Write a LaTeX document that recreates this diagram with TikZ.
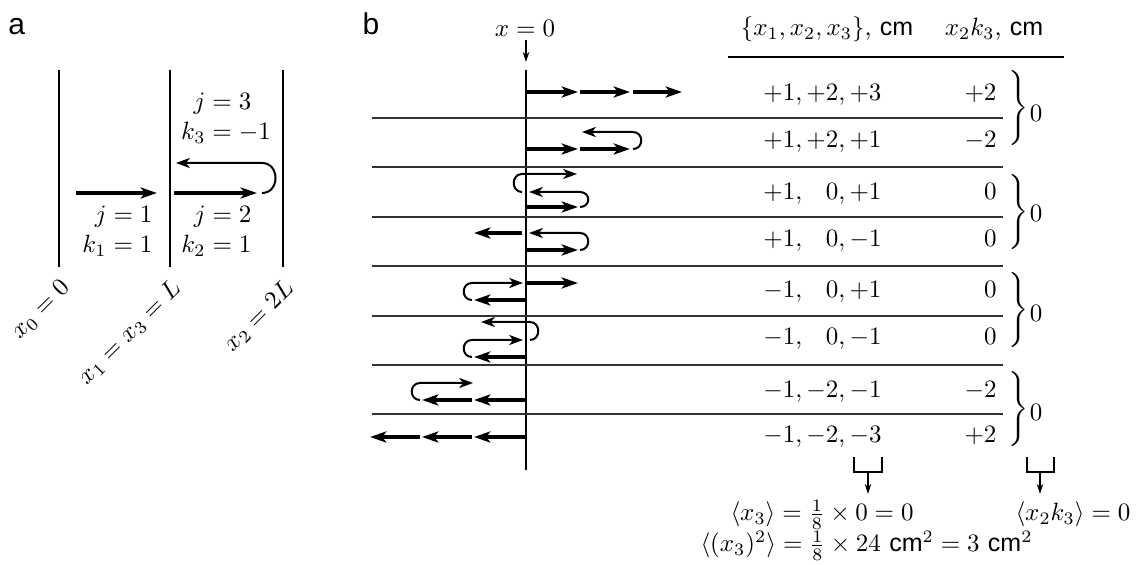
\documentclass[tikz,border=0pt]{standalone}
\usepackage[no-math]{fontspec}
\setsansfont{Liberation Sans}
\usepackage{tikz}
\usetikzlibrary{arrows.meta, calc}

\begin{document}
\begin{tikzpicture}[x=0.4pt, y=-0.4pt, every node/.style={inner sep=0pt},
    wall/.style={line width=0.5pt},
    sep/.style={line width=0.6pt, black!80},
    jump/.style={line width=1.5pt, -{Stealth[length=6.5pt, width=4.4pt, inset=1.6pt]}},
    back/.style={line width=0.8pt, -{Stealth[length=5.5pt, width=4pt, inset=1.5pt]}},
    pointer/.style={line width=0.5pt, -{Stealth[length=4pt, width=2.6pt]}},
    tag/.style={font=\sffamily\large, anchor=base west}]
    \useasboundingbox (0,0) rectangle (1136,565);

    % panel a
    \node [tag] (taga) at (8,35) {a};
    \foreach \x/\nm in {59/wzero, 170/wone, 283/wtwo}
        \draw [wall] (\x,70) -- (\x,267) coordinate (\nm);
    \node [rotate=45, anchor=north east] (lzero) at ($(wzero)+(0,10)$) {$x_0=0$};
    \node [rotate=45, anchor=north east] (lone) at ($(wone)+(0,10)$) {$x_1=x_3=L$};
    \node [rotate=45, anchor=north east] (ltwo) at ($(wtwo)+(0,10)$) {$x_2=2L$};

    \draw [jump] (76,193) -- (157,193);
    \draw [jump] (174,193) -- (257,193);
    \draw [back] (262,193) .. controls (280,193) and (280,163) .. (262,163) -- (176,163);

    \node (stepone) at (117.5,232) {\begin{tabular}{@{}r@{}l@{}}$j$&${}=1$\\$k_1$&${}=1$\end{tabular}};
    \node (steptwo) at (216.5,232) {\begin{tabular}{@{}r@{}l@{}}$j$&${}=2$\\$k_2$&${}=1$\end{tabular}};
    \node (stepthree) at (226,119) {\begin{tabular}{@{}r@{}l@{}}$j$&${}=3$\\$k_3$&${}=-1$\end{tabular}};

    % panel b
    \node [tag] (tagb) at (362,35) {b};
    \node [anchor=base] (xzero) at (525,37) {$x=0$};
    \coordinate (xtip) at (526,62);
    \draw [pointer] ($(xzero.south -| xtip)+(0,3)$) -- (xtip);
    \draw [wall] (526,70) -- (526,470);

    \foreach \y in {118,167,217,266,316,365,414}
        \draw [sep] (372,\y) -- (1003,\y);
    \draw [line width=1pt] (728,57) -- (1064,57);

    % walks
    \draw [jump] (526,92) -- (578,92);
    \draw [jump] (580,92) -- (630,92);
    \draw [jump] (633,92) -- (682,92);

    \draw [jump] (526,149) -- (578,149);
    \draw [jump] (580,149) -- (630,149);
    \draw [back] (633,149) .. controls (644,149) and (644,132) .. (633,132) -- (582,132);

    \draw [jump] (526,207) -- (578,207);
    \draw [back] (580,207) .. controls (591,207) and (591,192) .. (580,192) -- (529,192);
    \draw [back] (522,192) .. controls (511,192) and (511,174) .. (522,174) -- (577,174);

    \draw [jump] (526,250) -- (578,250);
    \draw [back] (580,250) .. controls (591,250) and (591,233) .. (580,233) -- (529,233);
    \draw [jump] (522,233) -- (474,233);

    \draw [jump] (526,300) -- (474,300);
    \draw [back] (472,300) .. controls (461,300) and (461,283) .. (472,283) -- (523,283);
    \draw [jump] (527,283) -- (578,283);

    \draw [jump] (526,357) -- (474,357);
    \draw [back] (472,357) .. controls (461,357) and (461,340) .. (472,340) -- (523,340);
    \draw [back] (530,340) .. controls (541,340) and (541,322) .. (530,322) -- (481,322);

    \draw [jump] (526,400) -- (474,400);
    \draw [jump] (472,400) -- (422,400);
    \draw [back] (420,400) .. controls (409,400) and (409,383) .. (420,383) -- (473,383);

    \draw [jump] (526,437) -- (474,437);
    \draw [jump] (472,437) -- (422,437);
    \draw [jump] (420,437) -- (370,437);

    % table
    \node [anchor=base] (headset) at (827,36) {$\{x_1,x_2,x_3\}$,\ \textsf{cm}};
    \node [anchor=base] (headprod) at (994,36) {$x_2k_3$,\ \textsf{cm}};
    \foreach \y/\xs/\xk [count=\i] in {101/{+1,+2,+3}/{+2}, 148/{+1,+2,+1}/{-2},
        200/{+1,\phantom{+}0,+1}/0, 247/{+1,\phantom{+}0,-1}/0,
        298/{-1,\phantom{+}0,+1}/0, 345/{-1,\phantom{+}0,-1}/0,
        398/{-1,-2,-1}/{-2}, 443/{-1,-2,-3}/{+2}} {
        \node [anchor=base east] (pos\i) at (882,\y) {$\xs$};
        \node [anchor=base east] (prod\i) at (997,\y) {$\xk$};
    }
    \foreach \y/\z [count=\i] in {108.5/113, 212/213, 310/313, 409/412} {
        \node (brace\i) at (1019,\y) {$\Bigg\}$};
        \node (sum\i) at (1036,\z) {$0$};
    }

    % averages
    \draw [wall] (854,457) -- (854,472) -- (882,472) -- (882,457);
    \draw [wall] (1027,457) -- (1027,472) -- (1054,472) -- (1054,457);
    \coordinate (cupone) at (868,472);
    \coordinate (cuptwo) at (1040,472);
    \coordinate (tipone) at (868,494);
    \coordinate (tiptwo) at (1040,494);
    \draw [pointer] (cupone) -- (tipone);
    \draw [pointer] (cuptwo) -- (tiptwo);
    \node [anchor=base west] (avgx) at (730,521) {$\langle x_3\rangle=\frac{1}{8}\times 0=0$};
    \node [anchor=base west] (avgprod) at (1015,521) {$\langle x_2k_3\rangle=0$};
    \node [anchor=base west] (spread) at (700,552) {$\langle (x_3)^2\rangle=\frac{1}{8}\times 24$ \textsf{cm}$^2=3$ \textsf{cm}$^2$};
\end{tikzpicture}
\end{document}
